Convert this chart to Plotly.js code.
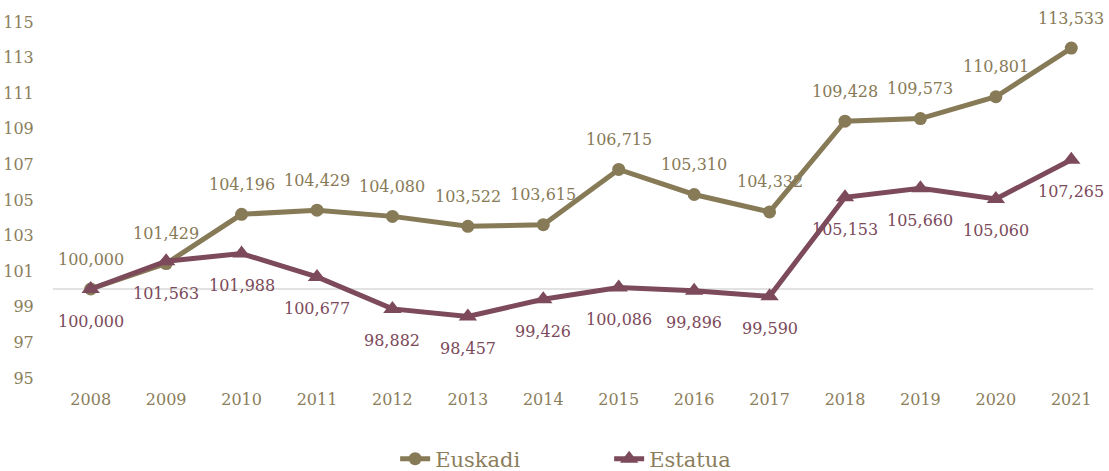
<!DOCTYPE html>
<html>
<head>
<meta charset="utf-8">
<script src="https://cdn.plot.ly/plotly-3.0.1.min.js"></script>
<style>html,body{margin:0;padding:0;background:#fff;}#chart{width:1109px;height:471px;}</style>
</head>
<body>
<div id="chart"></div>
<script>
const years = ['2008','2009','2010','2011','2012','2013','2014','2015','2016','2017','2018','2019','2020','2021'];
const euskadi = [100.000, 101.429, 104.196, 104.429, 104.080, 103.522, 103.615, 106.715, 105.310, 104.332, 109.428, 109.573, 110.801, 113.533];
const estatua = [100.000, 101.563, 101.988, 100.677, 98.882, 98.457, 99.426, 100.086, 99.896, 99.590, 105.153, 105.660, 105.060, 107.265];
const yTicks = [95, 97, 99, 101, 103, 105, 107, 109, 111, 113, 115];

const cE = '#877a57';
const cS = '#7c4a5b';
const cT = '#8b7e5c';
const fontFam = 'DejaVu Serif, serif';
const fmt = v => v.toFixed(3).replace('.', ',');

const traces = [
  {x: years, y: euskadi, name: 'Euskadi', type: 'scatter', mode: 'lines+markers',
   line: {color: cE, width: 5}, marker: {symbol: 'circle', size: 13, color: cE}},
  {x: years, y: estatua, name: 'Estatua', type: 'scatter', mode: 'lines+markers',
   line: {color: cS, width: 5}, marker: {symbol: 'triangle-up', size: 16, color: cS}}
];

const annotations = [];
years.forEach((yr, i) => {
  annotations.push({xref: 'x', yref: 'y', x: i, y: euskadi[i], text: fmt(euskadi[i]), showarrow: false, yshift: 30,
    font: {family: fontFam, size: 16, color: cE}});
  annotations.push({xref: 'x', yref: 'y', x: i, y: estatua[i], text: fmt(estatua[i]), showarrow: false, yshift: -32,
    font: {family: fontFam, size: 16, color: cS}});
});

const layout = {
  width: 1109, height: 471,
  margin: {l: 53, r: 0, t: 22, b: 93, autoexpand: false},
  paper_bgcolor: '#fff', plot_bgcolor: '#fff',
  font: {family: fontFam, size: 16, color: cT},
  showlegend: true,
  legend: {orientation: 'h', x: 0.324, xanchor: 'left', y: -0.2275, yanchor: 'middle',
    font: {family: fontFam, size: 21, color: cT}, entrywidth: 169, entrywidthmode: 'pixels'},
  xaxis: {type: 'category', range: [-0.5, 13.5], showgrid: false, zeroline: false, showline: false,
    ticks: 'outside', ticklen: 7, tickcolor: 'rgba(0,0,0,0)', tickfont: {family: fontFam, size: 16, color: cT}},
  yaxis: {range: [95, 115], tickvals: yTicks, ticktext: yTicks.map(String), showgrid: false, zeroline: false,
    showline: false, ticks: 'outside', ticklen: 15, tickcolor: 'rgba(0,0,0,0)', tickfont: {family: fontFam, size: 16, color: cT}},
  shapes: [{type: 'line', xref: 'paper', x0: 0, x1: 0.985, yref: 'y', y0: 100, y1: 100,
    line: {color: '#d9d9d9', width: 1.5}, layer: 'below'}],
  annotations: annotations
};

Plotly.newPlot('chart', traces, layout, {displayModeBar: false});
</script>
</body>
</html>
